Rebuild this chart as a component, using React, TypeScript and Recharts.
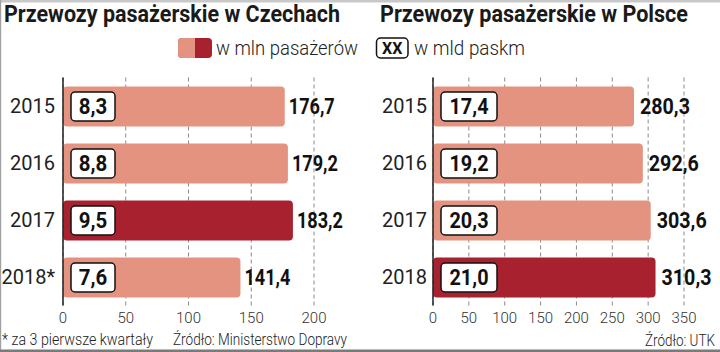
import React from "react";
import { BarChart, Bar, XAxis, YAxis, CartesianGrid, Cell, LabelList } from "recharts";

const czYears = ["2015", "2016", "2017", "2018*"];
const czPassengers = [176.7, 179.2, 183.2, 141.4];
const czPaskm = [8.3, 8.8, 9.5, 7.6];
const czTicks = [0, 50, 100, 150, 200];

const plYears = ["2015", "2016", "2017", "2018"];
const plPassengers = [280.3, 292.6, 303.6, 310.3];
const plPaskm = [17.4, 19.2, 20.3, 21.0];
const plTicks = [0, 50, 100, 150, 200, 250, 300, 350];

const LIGHT = "#E3937F";
const DARK = "#A8212F";
const FONT = "Roboto, 'DejaVu Sans', sans-serif";

const fmt = (v: number) => v.toFixed(1).replace(".", ",");

type PanelProps = {
  years: string[];
  values: number[];
  paskm: number[];
  ticks: number[];
  darkIndex: number;
  left: number;
  yAxisWidth: number;
  rightMargin: number;
  boxW: number;
  valueGap: number;
  valueW: number;
  yLabelGap: number;
};

function Panel(p: PanelProps) {
  const data = p.years.map((y, i) => ({ year: y, value: p.values[i], km: p.paskm[i] }));
  const max = p.ticks[p.ticks.length - 1];

  const XTick = (t: any) => (
    <text x={t.x} y={t.y + 9} textAnchor="middle" fontFamily={FONT} fontSize={15} fill="#333" fontWeight={300}>
      {t.payload.value}
    </text>
  );
  const YTick = (t: any) => (
    <text x={t.x + 8 - p.yLabelGap} y={t.y} dy="0.36em" textAnchor="end" fontFamily={FONT} fontSize={20} fill="#222">
      {t.payload.value}
    </text>
  );
  const renderLabel = (lp: any) => {
    const { x, y, width, height, value, index } = lp;
    const cy = y + height / 2;
    const bx = x + 8;
    const kmText = fmt(data[index].km);
    return (
      <g>
        <rect x={bx} y={cy - 14.5} width={p.boxW} height={29} rx={4} ry={4} fill="#fff" stroke="#111" strokeWidth={1.5} />
        <text
          x={bx + p.boxW / 2}
          y={cy}
          dy="0.36em"
          textAnchor="middle"
          fontFamily={FONT}
          fontWeight={700}
          fontSize={22}
          fill="#111"
          textLength={kmText.length * 10.5 - 3}
          lengthAdjust="spacingAndGlyphs"
        >
          {kmText}
        </text>
        <text
          x={x + width + p.valueGap}
          y={cy}
          dy="0.36em"
          textAnchor="start"
          fontFamily={FONT}
          fontWeight={700}
          fontSize={22}
          fill="#111"
          textLength={p.valueW}
          lengthAdjust="spacingAndGlyphs"
        >
          {fmt(value)}
        </text>
      </g>
    );
  };

  return (
    <div style={{ position: "absolute", left: p.left, top: 0 }}>
      <BarChart
        width={360}
        height={352}
        data={data}
        layout="vertical"
        margin={{ top: 77.5, right: p.rightMargin, bottom: 16.5, left: 0 }}
        barSize={40}
      >
        <CartesianGrid vertical={true} horizontal={false} stroke="#8a8a8a" strokeDasharray="4 3" />
        <XAxis
          type="number"
          domain={[0, max]}
          ticks={p.ticks}
          axisLine={false}
          tickLine={false}
          height={30}
          tick={XTick}
          interval={0}
        />
        <YAxis
          type="category"
          dataKey="year"
          width={p.yAxisWidth}
          axisLine={{ stroke: "#222", strokeWidth: 1.5 }}
          tickLine={false}
          tick={YTick}
        />
        <Bar dataKey="value" radius={4} isAnimationActive={false}>
          {data.map((_, i) => (
            <Cell key={i} fill={i === p.darkIndex ? DARK : LIGHT} />
          ))}
          <LabelList dataKey="value" content={renderLabel} />
        </Bar>
      </BarChart>
    </div>
  );
}

export default function App() {
  return (
    <div style={{ position: "absolute", left: 0, top: 0, width: 720, height: 352, background: "#fff", overflow: "hidden" }}>
      <Panel
        years={czYears}
        values={czPassengers}
        paskm={czPaskm}
        ticks={czTicks}
        darkIndex={2}
        left={0}
        yAxisWidth={63}
        rightMargin={46}
        boxW={44}
        valueGap={4}
        valueW={46}
        yLabelGap={8}
      />
      <Panel
        years={plYears}
        values={plPassengers}
        paskm={plPaskm}
        ticks={plTicks}
        darkIndex={3}
        left={360}
        yAxisWidth={73}
        rightMargin={36}
        boxW={56}
        valueGap={6}
        valueW={50}
        yLabelGap={6}
      />
      <svg width={720} height={352} style={{ position: "absolute", left: 0, top: 0, pointerEvents: "none" }}>
        <rect x={0} y={0} width={720} height={2.5} fill="#c8c8c8" />
        <rect x={0} y={0} width={1.2} height={352} fill="#a0a0a0" />
        <rect x={0} y={349.5} width={720} height={2.5} fill="#7a7a7a" />
        <text x={4} y={22} fontFamily={FONT} fontWeight={700} fontSize={24} fill="#1a1a1a" textLength={336} lengthAdjust="spacingAndGlyphs">
          Przewozy pasażerskie w Czechach
        </text>
        <text x={380} y={22} fontFamily={FONT} fontWeight={700} fontSize={24} fill="#1a1a1a" textLength={308} lengthAdjust="spacingAndGlyphs">
          Przewozy pasażerskie w Polsce
        </text>
        <rect x={178} y={38} width={34} height={20} rx={4} ry={4} fill={DARK} />
        <path d="M195,38 H182 a4,4 0 0 0 -4,4 V54 a4,4 0 0 0 4,4 H195 Z" fill={LIGHT} />
        <text x={216} y={55} fontFamily={FONT} fontWeight={300} fontSize={20} fill="#222" textLength={142} lengthAdjust="spacingAndGlyphs">
          w mln pasażerów
        </text>
        <rect x={376.5} y={38} width={31.5} height={20} rx={4} ry={4} fill="#fff" stroke="#111" strokeWidth={1.5} />
        <text x={392.25} y={48} dy="0.36em" textAnchor="middle" fontFamily={FONT} fontWeight={700} fontSize={16} fill="#111">
          XX
        </text>
        <text x={414} y={55} fontFamily={FONT} fontWeight={300} fontSize={20} fill="#222" textLength={111} lengthAdjust="spacingAndGlyphs">
          w mld paskm
        </text>
        <text x={2} y={345} fontFamily={FONT} fontWeight={300} fontSize={16} fill="#222" textLength={151} lengthAdjust="spacingAndGlyphs">
          * za 3 pierwsze kwartały
        </text>
        <text x={173} y={345} fontFamily={FONT} fontWeight={300} fontSize={16} fill="#222" textLength={174} lengthAdjust="spacingAndGlyphs">
          Źródło: Ministerstwo Dopravy
        </text>
        <text x={645} y={346} fontFamily={FONT} fontWeight={300} fontSize={16} fill="#222" textLength={70} lengthAdjust="spacingAndGlyphs">
          Źródło: UTK
        </text>
      </svg>
    </div>
  );
}
